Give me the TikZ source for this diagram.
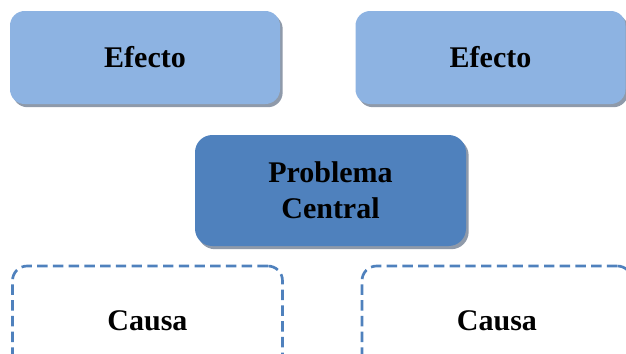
\documentclass[tikz,border=0pt]{standalone}
\usepackage{fontspec}
\setmainfont{Liberation Serif}
\usepackage{tikz}
\usetikzlibrary{positioning,shadows}
\usepackage{xcolor}
\definecolor{efectoblue}{HTML}{8DB3E2}
\definecolor{centralblue}{HTML}{4F81BD}
\definecolor{shadowgray}{HTML}{8F9AAA}

\begin{document}
\begin{tikzpicture}[x=0.75pt, y=-0.75pt,
    box/.style={rounded corners=11pt, align=center, inner sep=0pt,
        font=\fontsize{22.5}{27}\selectfont\bfseries},
    shadowed/.style={drop shadow={shadow xshift=2pt, shadow yshift=-2.4pt,
        fill=shadowgray, opacity=1}},
    efecto/.style={box, shadowed, fill=efectoblue,
        minimum width=202.5pt, minimum height=69.75pt},
    central/.style={box, shadowed, fill=centralblue, rounded corners=13pt,
        minimum width=203.25pt, minimum height=83.25pt},
    causa/.style={box, draw=centralblue, line width=2pt,
        dash pattern=on 7.8pt off 4pt,
        minimum width=202.5pt, minimum height=82.5pt}]
    \useasboundingbox (0,0) rectangle (626,354);

    % Effects on top
    \node[efecto] (efectoL) at (145,57.5) {Efecto};
    \node[efecto] (efectoR) at (490.5,57.5) {Efecto};

    % Central problem
    \node[central] (problema) at (330.5,190.5) {Problema\\Central};

    % Causes below
    \node[causa] (causaL) at (147.5,321) {Causa};
    \node[causa] (causaR) at (497,321) {Causa};
\end{tikzpicture}
\end{document}
